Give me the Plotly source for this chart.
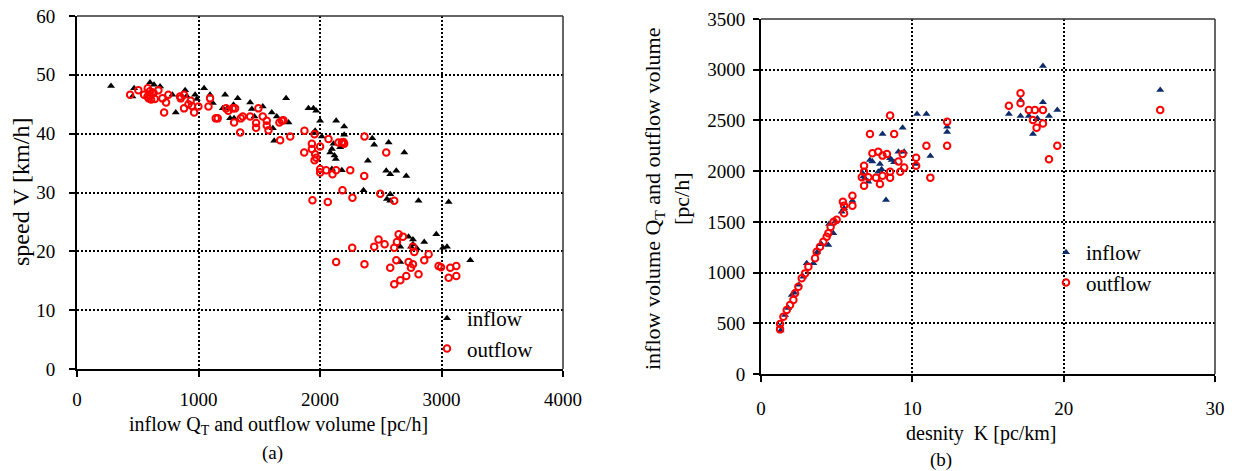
import plotly.graph_objects as go

W, H = 1234, 471

# ---------------- data ----------------
# (a) speed vs volume
a_in_q = [280, 470, 456, 601, 634, 684, 785, 813, 890, 903, 972, 986, 1046, 1095, 1118, 1219, 1200, 1238,
          1288, 1323, 1260, 1293, 1425, 1439, 1460, 1529, 1603, 1644, 1612, 1623, 1721, 1741, 1905, 1946,
          1969, 1960, 1946, 2001, 2015, 2133, 2199, 2199, 2111, 2098, 2084, 2119, 2130, 2166, 2098, 2180,
          2358, 2394, 2430, 2446, 2565, 2694, 2545, 2578, 2628, 2710, 2578, 2551, 2578, 2811, 3059, 2957,
          2729, 2765, 2765, 2798, 2661, 2749, 2858, 3012, 3045, 2661, 3237]
a_in_v = [48.1, 47.7, 46.3, 48.7, 48.3, 48.0, 46.6, 43.6, 47.4, 46.4, 46.6, 45.9, 47.7, 46.6, 45.2, 46.6, 44.3, 44.3,
          44.9, 46.0, 42.6, 42.6, 45.3, 44.2, 42.9, 44.6, 43.6, 42.9, 40.9, 38.8, 46.0, 41.9, 44.3, 44.3,
          43.9, 40.5, 40.1, 42.2, 39.5, 42.2, 41.2, 39.8, 38.3, 37.4, 36.8, 36.3, 35.7, 37.7, 34.0, 33.8,
          30.4, 35.4, 39.2, 38.1, 38.5, 36.8, 33.7, 33.1, 33.7, 32.8, 29.7, 28.9, 28.6, 28.6, 28.4, 22.9,
          22.5, 22.0, 21.2, 20.5, 20.8, 20.8, 21.6, 20.6, 20.8, 18.2, 18.5]

a_out_q = [437, 505, 552, 582, 590, 600, 610, 620, 600, 630, 640, 580, 670, 703, 733, 717, 752, 848, 854, 881,
           881, 917, 936, 945, 964, 999, 1082, 1095, 1142, 1158, 1227, 1246, 1282, 1301, 1293, 1343, 1348,
           1364, 1425, 1493, 1474, 1474, 1529, 1562, 1562, 1576, 1666, 1686, 1699, 1672, 1755, 1872, 1870,
           1933, 1933, 1955, 1960, 1955, 1969, 2001, 2001, 2001, 2051, 2070, 2103, 2133, 2152, 2180, 2199,
           2193, 2249, 2366, 2364, 1938, 2064, 2185, 2267, 2545, 2496, 2611, 2647, 2683, 2482, 2446, 2532,
           2633, 2611, 2765, 2776, 2894, 2265, 2133, 2366, 2578, 2628, 2729, 2765, 2749, 2858, 2976, 2996,
           3072, 3122, 2611, 2661, 2710, 2811, 3059, 3122]
a_out_v = [46.6, 47.4, 46.6, 47.7, 46.0, 46.5, 45.8, 47.0, 47.2, 46.9, 45.9, 46.3, 47.4, 46.0, 45.3, 43.6, 46.6, 46.3, 46.0, 46.6,
           44.3, 45.0, 45.6, 44.7, 43.6, 44.6, 44.6, 46.0, 42.6, 42.6, 44.3, 43.9, 44.3, 44.3, 41.9, 40.2, 42.6,
           42.9, 42.9, 44.3, 41.8, 41.0, 42.9, 42.2, 41.4, 40.6, 41.9, 42.2, 42.3, 38.9, 39.5, 40.5, 36.8,
           38.3, 37.4, 39.9, 36.5, 35.5, 35.9, 37.8, 34.0, 33.4, 33.8, 39.1, 33.1, 33.8, 38.5, 38.5, 38.3,
           38.6, 33.8, 39.5, 32.8, 28.7, 28.4, 30.4, 29.1, 36.8, 29.8, 28.6, 22.9, 22.5, 22.0, 20.8, 21.2,
           21.6, 20.6, 20.8, 19.9, 19.5, 20.6, 18.2, 17.8, 17.2, 18.5, 18.2, 17.8, 17.2, 18.5, 17.5, 17.3,
           17.2, 17.5, 14.4, 15.1, 15.8, 16.1, 15.5, 15.8]

# (b) volume vs density
b_in_k = [1.26, 1.3, 1.59, 1.8, 2.03, 2.2, 2.5, 2.8, 3.02, 3.46, 3.7, 4.0, 4.45, 4.78, 4.5, 4.9, 5.33, 5.49,
          6.04, 6.72, 6.87, 7.09, 6.76, 7.20, 7.36, 7.86, 7.97, 7.75, 8.03, 8.26, 8.53, 8.64, 8.80, 9.08,
          9.46, 9.36, 10.25, 10.31, 10.93, 11.19, 12.30, 12.30, 16.38, 17.15, 17.15, 17.70, 17.97, 18.26,
          18.63, 18.63, 19.03, 19.58, 26.38]
b_in_q = [470, 430, 581, 650, 778, 800, 880, 960, 1091, 1091, 1200, 1280, 1272, 1387, 1480, 1500, 1600, 1634,
          1709, 1979, 1930, 1896, 1946, 2110, 2094, 2070, 2018, 1995, 2366, 1716, 2127, 2110, 2088, 2192,
          2192, 2429, 2070, 2563, 2563, 2149, 2438, 2386, 2563, 2701, 2544, 2544, 2366, 2521,
          3037, 2679, 2544, 2603, 2800]

b_out_k = [1.26, 1.26, 1.48, 1.70, 1.92, 2.14, 2.25, 2.47, 2.69, 2.91, 3.13, 3.57, 3.68, 3.90, 4.12, 4.34, 4.45,
           4.6, 4.8, 5.0, 5.41, 5.49, 5.49, 6.04, 6.04, 6.66, 6.81, 6.81, 6.81, 7.09, 7.60, 7.86, 8.03, 7.36,
           7.75, 8.03, 8.32, 7.20, 8.80, 8.53, 8.53, 8.53, 9.08, 9.20, 9.36, 9.46, 10.25, 10.25, 10.93, 11.19,
           12.30, 12.30, 16.38, 17.15, 17.15, 17.70, 18.10, 18.63, 17.97, 18.21, 18.63, 19.03, 19.58, 26.38]
b_out_q = [440, 493, 565, 631, 680, 730, 795, 861, 943, 992, 1058, 1141, 1206, 1255, 1305, 1354, 1387,
           1450, 1500, 1520, 1699, 1660, 1584, 1758, 1660, 1939, 2054, 1995, 1857, 1939, 1936, 1873, 1955, 2176,
           2192, 2153, 2170, 2366, 2366, 2548, 1995, 1936, 2094, 1995, 2170, 2035, 2133, 2054, 2251, 1936,
           2488, 2251, 2645, 2767, 2669, 2603, 2603, 2603, 2504, 2429, 2469, 2117, 2251, 2603]

a_xticks = [0, 1000, 2000, 3000, 4000]
a_yticks = [0, 10, 20, 30, 40, 50, 60]
b_xticks = [0, 10, 20, 30]
b_yticks = [0, 500, 1000, 1500, 2000, 2500, 3000, 3500]

# ---------------- layout helpers ----------------
def px(x):
    return x / W

def py(y):
    return 1 - y / H

FONT = "Liberation Serif"
BLACK = "#000000"
RED = "#ff0000"
NAVY = "#0d2c6b"

fig = go.Figure()

fig.add_trace(go.Scatter(x=a_in_q, y=a_in_v, mode="markers", name="inflow",
                         marker=dict(symbol="triangle-up", size=7, color=BLACK),
                         xaxis="x", yaxis="y", legend="legend"))
fig.add_trace(go.Scatter(x=a_out_q, y=a_out_v, mode="markers", name="outflow",
                         marker=dict(symbol="circle-open", size=6.5, color=RED, line=dict(width=2, color=RED)),
                         xaxis="x", yaxis="y", legend="legend"))
fig.add_trace(go.Scatter(x=b_in_k, y=b_in_q, mode="markers", name="inflow",
                         marker=dict(symbol="triangle-up", size=7, color=NAVY),
                         xaxis="x2", yaxis="y2", legend="legend2"))
fig.add_trace(go.Scatter(x=b_out_k, y=b_out_q, mode="markers", name="outflow",
                         marker=dict(symbol="circle-open", size=6.5, color=RED, line=dict(width=2, color=RED)),
                         xaxis="x2", yaxis="y2", legend="legend2"))

TICKFONT = dict(family=FONT, size=19, color=BLACK)


def axis(**kw):
    d = dict(
        showline=True, linecolor=BLACK, linewidth=2,
        ticks="outside", ticklen=6, tickwidth=1.5, tickcolor=BLACK,
        showgrid=True, gridcolor=BLACK, gridwidth=1.5, griddash="2px,2px",
        zeroline=False, tickfont=TICKFONT, automargin=False, fixedrange=True,
    )
    d.update(kw)
    return d


fig.update_layout(
    template="none",
    width=W, height=H,
    margin=dict(l=0, r=0, t=0, b=0, autoexpand=False),
    paper_bgcolor="white", plot_bgcolor="white",
    font=dict(family=FONT, color=BLACK),
    xaxis=axis(domain=[px(77), px(563)], range=[0, 4000], tickvals=a_xticks, anchor="y",
               ticklabelstandoff=6),
    yaxis=axis(domain=[py(369), py(16)], range=[0, 60], tickvals=a_yticks, anchor="x",
               ticklabelstandoff=10),
    xaxis2=axis(domain=[px(761), px(1215)], range=[0, 30], tickvals=b_xticks, anchor="y2",
                ticklabelstandoff=10),
    yaxis2=axis(domain=[py(374), py(19)], range=[0, 3500], tickvals=b_yticks, anchor="x2",
                ticklabelstandoff=4),
    legend=dict(x=px(427), y=py(298), xanchor="left", yanchor="top",
                bgcolor="rgba(0,0,0,0)", font=dict(family=FONT, size=21, color=BLACK),
                itemsizing="trace", tracegroupgap=0),
    legend2=dict(x=px(1046), y=py(232), xanchor="left", yanchor="top",
                 bgcolor="rgba(0,0,0,0)", font=dict(family=FONT, size=21, color=BLACK),
                 itemsizing="trace", tracegroupgap=0),
    showlegend=True,
)

# thin top / right frame lines
for xr, yr in (("x domain", "y domain"), ("x2 domain", "y2 domain")):
    fig.add_shape(type="line", xref=xr, yref=yr, x0=0, x1=1, y0=1, y1=1,
                  line=dict(color="#333333", width=1.5))
    fig.add_shape(type="line", xref=xr, yref=yr, x0=1, x1=1, y0=0, y1=1,
                  line=dict(color="#333333", width=1.5))


def label(text, x, y, size=20, angle=0):
    fig.add_annotation(text=text, x=px(x), y=py(y), xref="paper", yref="paper",
                       showarrow=False, xanchor="center", yanchor="middle",
                       textangle=angle, font=dict(family=FONT, size=size, color=BLACK))


label("inflow Q<sub>T</sub> and outflow volume [pc/h]", 278, 425, size=20)
label("(a)", 272, 453, size=19)
label("speed V [km/h]", 21, 192, size=24, angle=-90)
label("desnity  K [pc/km]", 981, 433, size=20)
label("(b)", 941, 460, size=19)
label("inflow volume Q<sub>T</sub> and outflow volume<br>[pc/h]", 667, 199, size=22, angle=-90)

fig.write_html("out.html")
